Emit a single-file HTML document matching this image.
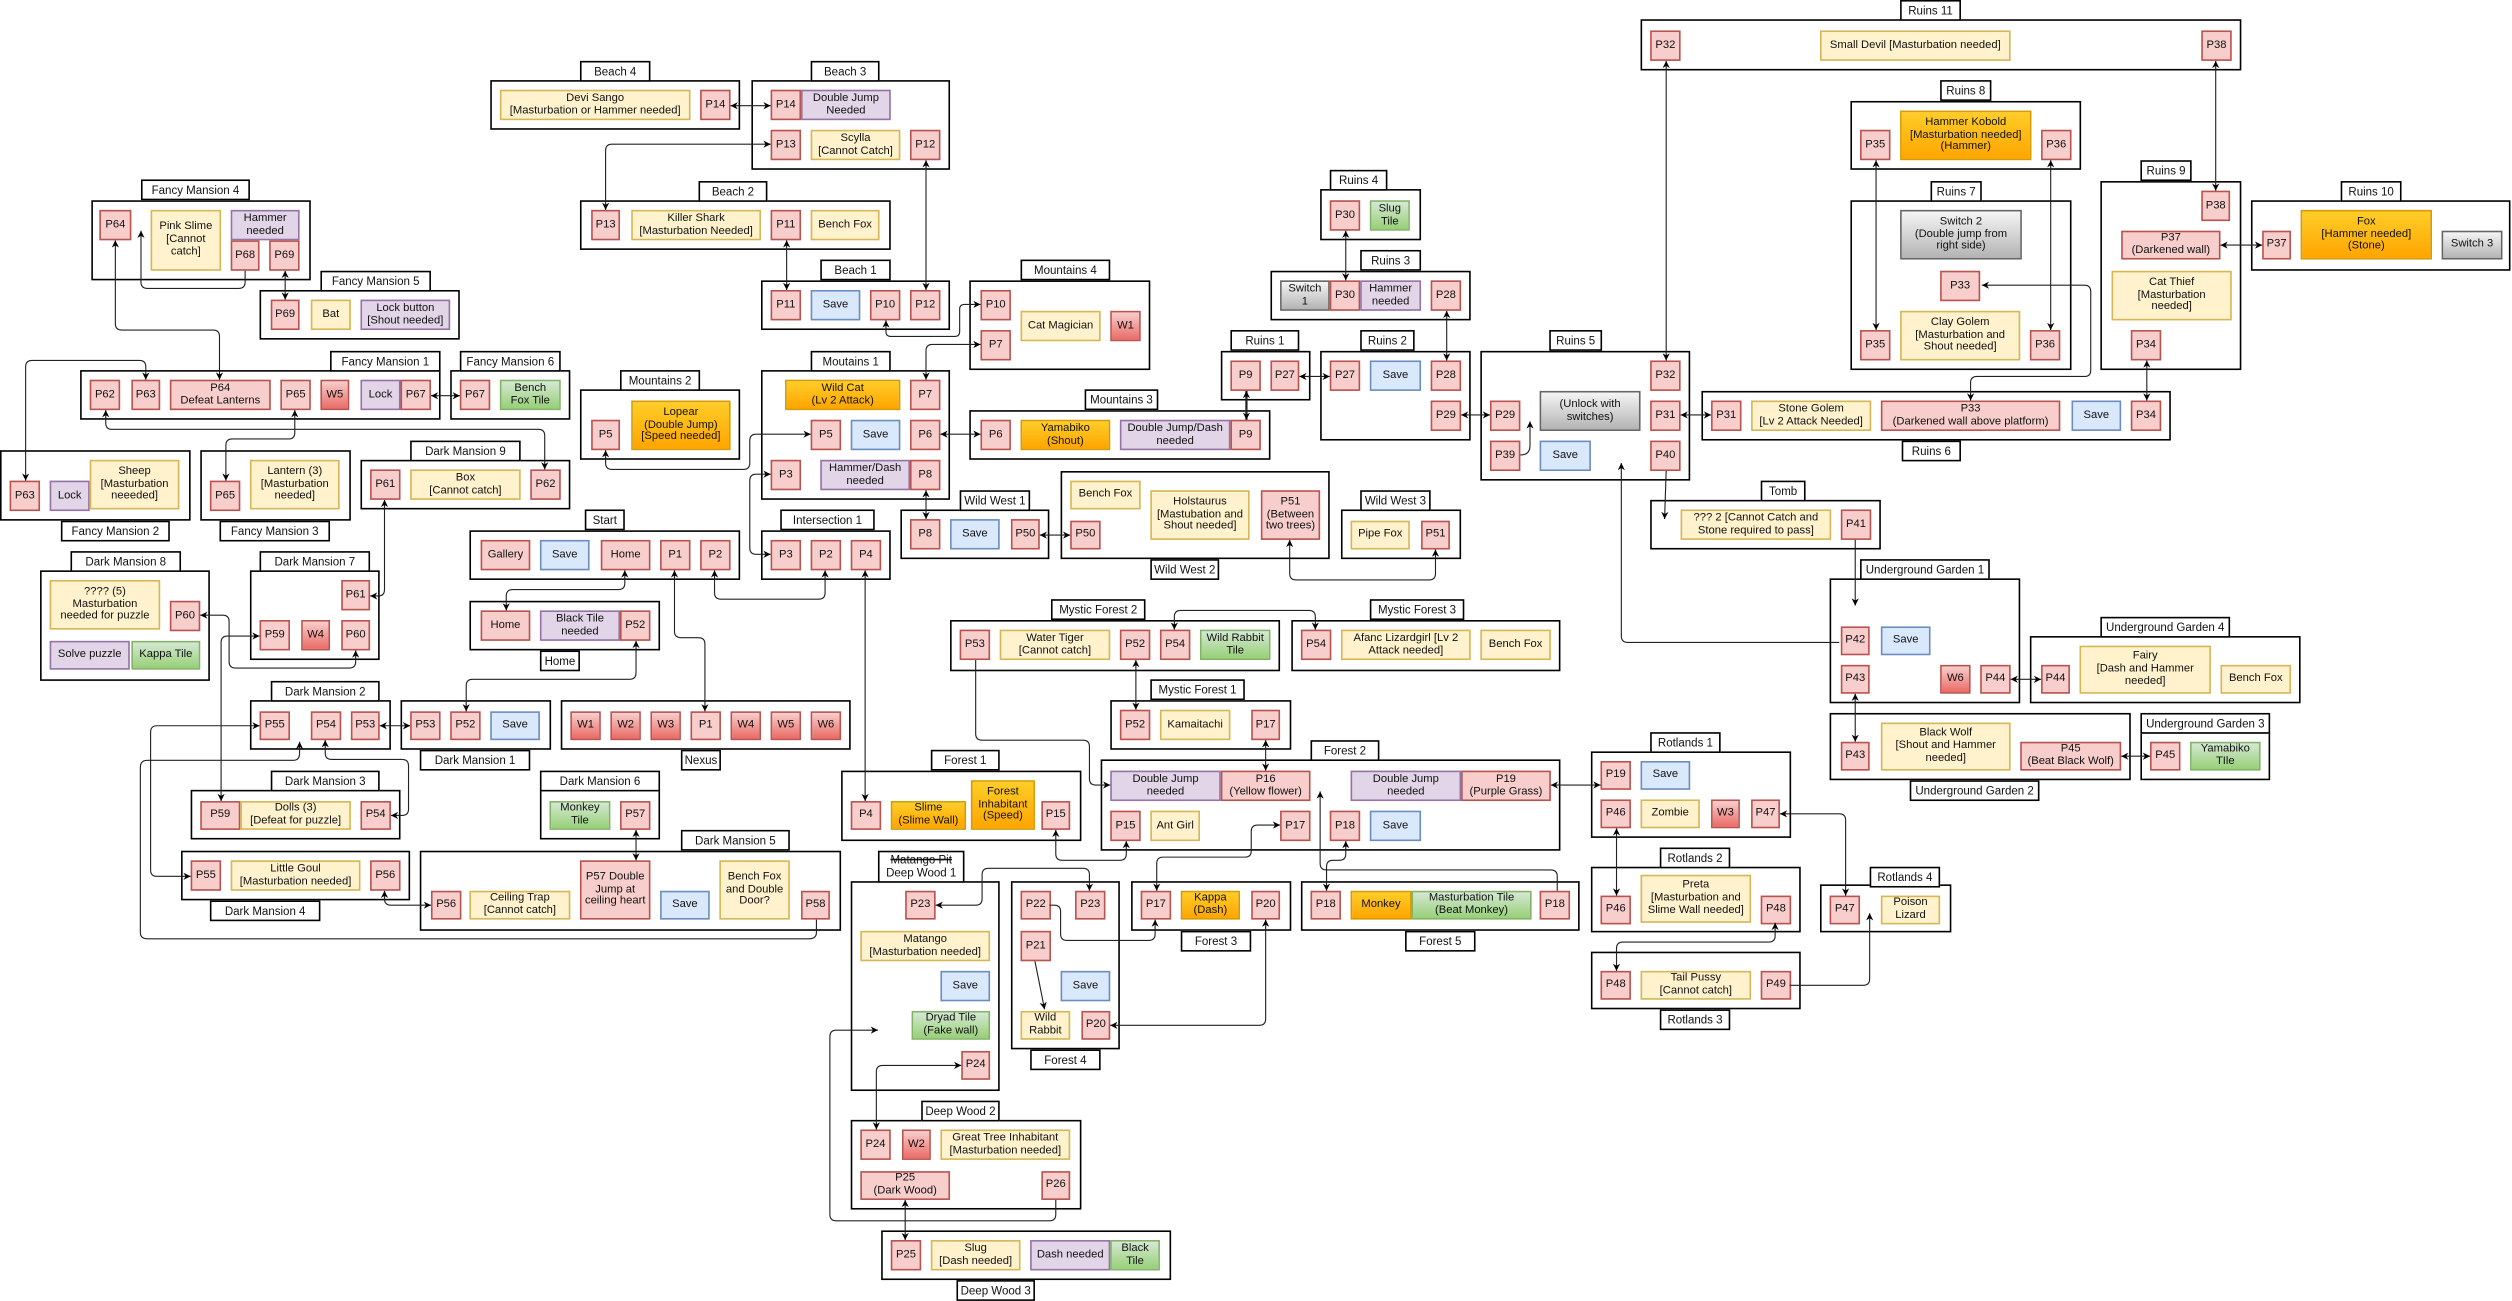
<!DOCTYPE html>
<html><head><meta charset="utf-8">
<style>
html,body{margin:0;padding:0;background:#fff;width:2512px;height:1301px;overflow:hidden}
#c{position:absolute;left:0;top:0;width:1568px;height:812px;transform:scale(1.6021);transform-origin:0 0;font-family:"Liberation Sans Narrow","Liberation Sans",sans-serif;color:#111}
#c div{position:absolute;box-sizing:border-box}
.bx{border:1.1px solid #000;background:#fff}
.tb{border:0.8px solid #000;background:#fff;font-size:7.2px;display:flex;align-items:center;justify-content:center;white-space:nowrap;height:12.5px}
.n{border:0.8px solid;display:flex;align-items:center;justify-content:center;text-align:center;font-size:7px;line-height:1.13;white-space:nowrap;overflow:visible}
.r{background:#f8cecc;border-color:#b85450}
.y{background:#fff2cc;border-color:#d6b656}
.p{background:#e1d5e7;border-color:#9673a6}
.b{background:#dae8fc;border-color:#6c8ebf}
.g{background:linear-gradient(#d5e8d4,#97d077);border-color:#82b366}
.o{background:linear-gradient(#ffcd28,#ffa500);border-color:#d79b00}
.w{background:linear-gradient(#f8cecc,#ea6b66);border-color:#b85450}
.s{background:linear-gradient(#f5f5f5,#b3b3b3);border-color:#666}
svg{position:absolute;left:0;top:0}
</style></head><body>
<div id="c">
<!-- Beach 4 -->
<div class="bx" style="left:306px;top:50px;width:156px;height:31px"></div><div class="tb" style="left:362px;top:38px;width:44px">Beach 4</div>
<div class="n y" style="left:312px;top:56px;width:119px;height:19px">Devi Sango<br>[Masturbation or Hammer needed]</div>
<div class="n r" style="left:437px;top:56px;width:19px;height:19px">P14</div>
<!-- Beach 3 -->
<div class="bx" style="left:469px;top:50px;width:124px;height:56px"></div><div class="tb" style="left:506px;top:38px;width:43px">Beach 3</div>
<div class="n r" style="left:481px;top:56px;width:19px;height:19px">P14</div>
<div class="n p" style="left:500px;top:56px;width:56px;height:19px">Double Jump<br>Needed</div>
<div class="n r" style="left:481px;top:81px;width:19px;height:19px">P13</div>
<div class="n y" style="left:506px;top:81px;width:56px;height:19px">Scylla<br>[Cannot Catch]</div>
<div class="n r" style="left:568px;top:81px;width:19px;height:19px">P12</div>
<!-- Beach 2 -->
<div class="bx" style="left:362px;top:125px;width:194px;height:31px"></div><div class="tb" style="left:436px;top:113px;width:43px">Beach 2</div>
<div class="n r" style="left:369px;top:131px;width:18px;height:19px">P13</div>
<div class="n y" style="left:394px;top:131px;width:81px;height:19px">Killer Shark<br>[Masturbation Needed]</div>
<div class="n r" style="left:481px;top:131px;width:19px;height:19px">P11</div>
<div class="n y" style="left:506px;top:131px;width:43px;height:19px">Bench Fox</div>
<!-- Beach 1 -->
<div class="bx" style="left:475px;top:175px;width:118px;height:31px"></div><div class="tb" style="left:512px;top:162px;width:44px">Beach 1</div>
<div class="n r" style="left:481px;top:181px;width:19px;height:19px">P11</div>
<div class="n b" style="left:506px;top:181px;width:31px;height:19px">Save</div>
<div class="n r" style="left:543px;top:181px;width:19px;height:19px">P10</div>
<div class="n r" style="left:568px;top:181px;width:19px;height:19px">P12</div>
<!-- Mountains 4 -->
<div class="bx" style="left:605px;top:175px;width:113px;height:56px"></div><div class="tb" style="left:637px;top:162px;width:56px">Mountains 4</div>
<div class="n r" style="left:612px;top:181px;width:19px;height:19px">P10</div>
<div class="n r" style="left:612px;top:206px;width:19px;height:19px">P7</div>
<div class="n y" style="left:637px;top:194px;width:50px;height:19px">Cat Magician</div>
<div class="n w" style="left:693px;top:194px;width:19px;height:19px">W1</div>
<!-- Moutains 1 -->
<div class="bx" style="left:475px;top:231px;width:118px;height:81px"></div><div class="tb" style="left:506px;top:219px;width:50px">Moutains 1</div>
<div class="n o" style="left:490px;top:237px;width:72px;height:19px">Wild Cat<br>(Lv 2 Attack)</div>
<div class="n r" style="left:568px;top:237px;width:19px;height:19px">P7</div>
<div class="n r" style="left:506px;top:262px;width:19px;height:19px">P5</div>
<div class="n b" style="left:531px;top:262px;width:31px;height:19px">Save</div>
<div class="n r" style="left:568px;top:262px;width:19px;height:19px">P6</div>
<div class="n r" style="left:481px;top:287px;width:19px;height:19px">P3</div>
<div class="n p" style="left:512px;top:287px;width:56px;height:19px">Hammer/Dash<br>needed</div>
<div class="n r" style="left:568px;top:287px;width:19px;height:19px">P8</div>
<!-- Mountains 2 -->
<div class="bx" style="left:362px;top:243px;width:100px;height:44px"></div><div class="tb" style="left:387px;top:231px;width:50px">Mountains 2</div>
<div class="n r" style="left:369px;top:262px;width:18px;height:19px">P5</div>
<div class="n o" style="left:394px;top:250px;width:62px;height:31px">Lopear<br>(Double Jump)<br>[Speed needed]</div>
<!-- Mountains 3 -->
<div class="bx" style="left:605px;top:256px;width:188px;height:31px"></div><div class="tb" style="left:677px;top:243px;width:46px">Mountains 3</div>
<div class="n r" style="left:612px;top:262px;width:19px;height:19px">P6</div>
<div class="n o" style="left:637px;top:262px;width:56px;height:19px">Yamabiko<br>(Shout)</div>
<div class="n p" style="left:699px;top:262px;width:69px;height:19px">Double Jump/Dash<br>needed</div>
<div class="n r" style="left:768px;top:262px;width:19px;height:19px">P9</div>
<!-- Wild West 1 -->
<div class="bx" style="left:562px;top:318px;width:93px;height:31px"></div><div class="tb" style="left:599px;top:306px;width:44px">Wild West 1</div>
<div class="n r" style="left:568px;top:324px;width:19px;height:19px">P8</div>
<div class="n b" style="left:593px;top:324px;width:31px;height:19px">Save</div>
<div class="n r" style="left:631px;top:324px;width:18px;height:19px">P50</div>
<!-- Wild West 2 -->
<div class="bx" style="left:662px;top:294px;width:168px;height:55px"></div><div class="tb" style="left:718px;top:349px;width:43px">Wild West 2</div>
<div class="n y" style="left:668px;top:300px;width:44px;height:18px">Bench Fox</div>
<div class="n y" style="left:718px;top:306px;width:62px;height:31px">Holstaurus<br>[Mastubation and<br>Shout needed]</div>
<div class="n r" style="left:787px;top:306px;width:37px;height:31px">P51<br>(Between<br>two trees)</div>
<div class="n r" style="left:668px;top:325px;width:19px;height:18px">P50</div>
<!-- Wild West 3 -->
<div class="bx" style="left:837px;top:318px;width:75px;height:31px"></div><div class="tb" style="left:849px;top:306px;width:44px">Wild West 3</div>
<div class="n y" style="left:843px;top:325px;width:37px;height:18px">Pipe Fox</div>
<div class="n r" style="left:887px;top:325px;width:18px;height:18px">P51</div>
<!-- Ruins 4 -->
<div class="bx" style="left:824px;top:118px;width:63px;height:32px"></div><div class="tb" style="left:830px;top:106px;width:36px">Ruins 4</div>
<div class="n r" style="left:830px;top:125px;width:19px;height:19px">P30</div>
<div class="n g" style="left:855px;top:125px;width:25px;height:19px">Slug<br>Tile</div>
<!-- Ruins 3 -->
<div class="bx" style="left:793px;top:169px;width:125px;height:31px"></div><div class="tb" style="left:849px;top:156px;width:38px">Ruins 3</div>
<div class="n s" style="left:799px;top:175px;width:31px;height:19px">Switch<br>1</div>
<div class="n r" style="left:830px;top:175px;width:19px;height:19px">P30</div>
<div class="n p" style="left:849px;top:175px;width:38px;height:19px">Hammer<br>needed</div>
<div class="n r" style="left:893px;top:175px;width:19px;height:19px">P28</div>
<!-- Ruins 1 -->
<div class="bx" style="left:762px;top:219px;width:56px;height:31px"></div><div class="tb" style="left:768px;top:206px;width:43px">Ruins 1</div>
<div class="n r" style="left:768px;top:225px;width:19px;height:19px">P9</div>
<div class="n r" style="left:793px;top:225px;width:18px;height:19px">P27</div>
<!-- Ruins 2 -->
<div class="bx" style="left:824px;top:219px;width:94px;height:56px"></div><div class="tb" style="left:849px;top:206px;width:34px">Ruins 2</div>
<div class="n r" style="left:830px;top:225px;width:19px;height:19px">P27</div>
<div class="n b" style="left:855px;top:225px;width:32px;height:19px">Save</div>
<div class="n r" style="left:893px;top:225px;width:19px;height:19px">P28</div>
<div class="n r" style="left:893px;top:250px;width:19px;height:19px">P29</div>
<!-- Ruins 5 -->
<div class="bx" style="left:924px;top:219px;width:131px;height:81px"></div><div class="tb" style="left:967px;top:206px;width:33px">Ruins 5</div>
<div class="n r" style="left:930px;top:250px;width:19px;height:19px">P29</div>
<div class="n s" style="left:961px;top:244px;width:63px;height:25px">(Unlock with<br>switches)</div>
<div class="n r" style="left:1030px;top:225px;width:19px;height:19px">P32</div>
<div class="n r" style="left:1030px;top:250px;width:19px;height:19px">P31</div>
<div class="n r" style="left:930px;top:275px;width:19px;height:19px">P39</div>
<div class="n b" style="left:961px;top:275px;width:32px;height:19px">Save</div>
<div class="n r" style="left:1030px;top:275px;width:19px;height:19px">P40</div>
<!-- Tomb -->
<div class="bx" style="left:1030px;top:312px;width:144px;height:31px"></div><div class="tb" style="left:1099px;top:300px;width:28px">Tomb</div>
<div class="n y" style="left:1049px;top:318px;width:94px;height:19px">??? 2 [Cannot Catch and<br>Stone required to pass]</div>
<div class="n r" style="left:1149px;top:318px;width:19px;height:19px">P41</div>
<!-- Ruins 11 -->
<div class="bx" style="left:1024px;top:12px;width:375px;height:32px"></div><div class="tb" style="left:1186px;top:0px;width:38px">Ruins 11</div>
<div class="n r" style="left:1030px;top:19px;width:19px;height:19px">P32</div>
<div class="n y" style="left:1136px;top:19px;width:119px;height:19px">Small Devil [Masturbation needed]</div>
<div class="n r" style="left:1374px;top:19px;width:19px;height:19px">P38</div>
<!-- Ruins 8 -->
<div class="bx" style="left:1155px;top:63px;width:144px;height:43px"></div><div class="tb" style="left:1211px;top:50px;width:32px">Ruins 8</div>
<div class="n r" style="left:1161px;top:81px;width:19px;height:19px">P35</div>
<div class="n o" style="left:1186px;top:69px;width:82px;height:31px">Hammer Kobold<br>[Masturbation needed]<br>(Hammer)</div>
<div class="n r" style="left:1274px;top:81px;width:19px;height:19px">P36</div>
<!-- Ruins 7 -->
<div class="bx" style="left:1155px;top:125px;width:138px;height:106px"></div><div class="tb" style="left:1205px;top:113px;width:32px">Ruins 7</div>
<div class="n s" style="left:1186px;top:131px;width:76px;height:31px">Switch 2<br>(Double jump from<br>right side)</div>
<div class="n r" style="left:1211px;top:169px;width:25px;height:19px">P33</div>
<div class="n r" style="left:1161px;top:206px;width:19px;height:19px">P35</div>
<div class="n y" style="left:1186px;top:194px;width:75px;height:31px">Clay Golem<br>[Masturbation and<br>Shout needed]</div>
<div class="n r" style="left:1267px;top:206px;width:19px;height:19px">P36</div>
<!-- Ruins 9 -->
<div class="bx" style="left:1311px;top:113px;width:88px;height:118px"></div><div class="tb" style="left:1336px;top:100px;width:32px">Ruins 9</div>
<div class="n r" style="left:1374px;top:119px;width:18px;height:19px">P38</div>
<div class="n r" style="left:1324px;top:144px;width:62px;height:18px">P37<br>(Darkened wall)</div>
<div class="n y" style="left:1318px;top:169px;width:75px;height:31px">Cat Thief<br>[Masturbation<br>needed]</div>
<div class="n r" style="left:1330px;top:206px;width:19px;height:19px">P34</div>
<!-- Ruins 10 -->
<div class="bx" style="left:1405px;top:125px;width:162px;height:44px"></div><div class="tb" style="left:1461px;top:113px;width:38px">Ruins 10</div>
<div class="n r" style="left:1412px;top:144px;width:18px;height:18px">P37</div>
<div class="n o" style="left:1436px;top:131px;width:82px;height:31px">Fox<br>[Hammer needed]<br>(Stone)</div>
<div class="n s" style="left:1524px;top:144px;width:38px;height:18px">Switch 3</div>
<!-- Ruins 6 -->
<div class="bx" style="left:1062px;top:244px;width:293px;height:31px"></div><div class="tb" style="left:1187px;top:275px;width:37px">Ruins 6</div>
<div class="n r" style="left:1068px;top:250px;width:19px;height:19px">P31</div>
<div class="n y" style="left:1093px;top:250px;width:75px;height:19px">Stone Golem<br>[Lv 2 Attack Needed]</div>
<div class="n r" style="left:1174px;top:250px;width:112px;height:19px">P33<br>(Darkened wall above platform)</div>
<div class="n b" style="left:1293px;top:250px;width:31px;height:19px">Save</div>
<div class="n r" style="left:1330px;top:250px;width:19px;height:19px">P34</div>
<!-- UG1 -->
<div class="bx" style="left:1142px;top:361px;width:119px;height:78px"></div><div class="tb" style="left:1161px;top:349px;width:81px">Underground Garden 1</div>
<div class="n r" style="left:1149px;top:391px;width:18px;height:18px">P42</div>
<div class="n b" style="left:1174px;top:391px;width:31px;height:18px">Save</div>
<div class="n r" style="left:1149px;top:415px;width:18px;height:18px">P43</div>
<div class="n w" style="left:1211px;top:415px;width:19px;height:18px">W6</div>
<div class="n r" style="left:1236px;top:415px;width:19px;height:18px">P44</div>
<!-- UG4 -->
<div class="bx" style="left:1267px;top:397px;width:169px;height:42px"></div><div class="tb" style="left:1311px;top:385px;width:81px">Underground Garden 4</div>
<div class="n r" style="left:1274px;top:415px;width:18px;height:18px">P44</div>
<div class="n y" style="left:1298px;top:403px;width:82px;height:30px">Fairy<br>[Dash and Hammer<br>needed]</div>
<div class="n y" style="left:1386px;top:415px;width:44px;height:18px">Bench Fox</div>
<!-- UG2 -->
<div class="bx" style="left:1142px;top:445px;width:188px;height:42px"></div><div class="tb" style="left:1192px;top:487px;width:81px">Underground Garden 2</div>
<div class="n r" style="left:1149px;top:463px;width:18px;height:18px">P43</div>
<div class="n y" style="left:1174px;top:451px;width:81px;height:30px">Black Wolf<br>[Shout and Hammer<br>needed]</div>
<div class="n r" style="left:1261px;top:463px;width:63px;height:18px">P45<br>(Beat Black Wolf)</div>
<!-- UG3 -->
<div class="bx" style="left:1336px;top:457px;width:81px;height:30px"></div><div class="tb" style="left:1336px;top:445px;width:81px">Underground Garden 3</div>
<div class="n r" style="left:1342px;top:463px;width:19px;height:18px">P45</div>
<div class="n g" style="left:1367px;top:463px;width:44px;height:18px">Yamabiko<br>TIle</div>
<!-- Rotlands 1 -->
<div class="bx" style="left:993px;top:469px;width:125px;height:54px"></div><div class="tb" style="left:1030px;top:457px;width:44px">Rotlands 1</div>
<div class="n r" style="left:999px;top:475px;width:19px;height:18px">P19</div>
<div class="n b" style="left:1024px;top:475px;width:31px;height:18px">Save</div>
<div class="n r" style="left:999px;top:499px;width:19px;height:18px">P46</div>
<div class="n y" style="left:1024px;top:499px;width:37px;height:18px">Zombie</div>
<div class="n w" style="left:1068px;top:499px;width:18px;height:18px">W3</div>
<div class="n r" style="left:1093px;top:499px;width:18px;height:18px">P47</div>
<!-- Rotlands 2 -->
<div class="bx" style="left:993px;top:541px;width:131px;height:41px"></div><div class="tb" style="left:1036px;top:529px;width:44px">Rotlands 2</div>
<div class="n r" style="left:999px;top:559px;width:19px;height:18px">P46</div>
<div class="n y" style="left:1024px;top:546px;width:69px;height:30px">Preta<br>[Masturbation and<br>Slime Wall needed]</div>
<div class="n r" style="left:1099px;top:559px;width:19px;height:18px">P48</div>
<!-- Rotlands 3 -->
<div class="bx" style="left:993px;top:594px;width:131px;height:36px"></div><div class="tb" style="left:1036px;top:630px;width:44px">Rotlands 3</div>
<div class="n r" style="left:999px;top:606px;width:19px;height:18px">P48</div>
<div class="n y" style="left:1024px;top:606px;width:69px;height:18px">Tail Pussy<br>[Cannot catch]</div>
<div class="n r" style="left:1099px;top:606px;width:19px;height:18px">P49</div>
<!-- Rotlands 4 -->
<div class="bx" style="left:1136px;top:552px;width:82px;height:30px"></div><div class="tb" style="left:1167px;top:541px;width:44px">Rotlands 4</div>
<div class="n r" style="left:1142px;top:559px;width:19px;height:18px">P47</div>
<div class="n y" style="left:1174px;top:559px;width:37px;height:18px">Poison<br>Lizard</div>
<!-- Mystic Forest 2 -->
<div class="bx" style="left:593px;top:387px;width:206px;height:32px"></div><div class="tb" style="left:656px;top:374px;width:59px">Mystic Forest 2</div>
<div class="n r" style="left:599px;top:393px;width:19px;height:19px">P53</div>
<div class="n y" style="left:624px;top:393px;width:69px;height:19px">Water Tiger<br>[Cannot catch]</div>
<div class="n r" style="left:699px;top:393px;width:19px;height:19px">P52</div>
<div class="n r" style="left:724px;top:393px;width:19px;height:19px">P54</div>
<div class="n g" style="left:749px;top:393px;width:44px;height:19px">Wild Rabbit<br>Tile</div>
<!-- Mystic Forest 3 -->
<div class="bx" style="left:806px;top:387px;width:168px;height:32px"></div><div class="tb" style="left:855px;top:374px;width:59px">Mystic Forest 3</div>
<div class="n r" style="left:812px;top:393px;width:19px;height:19px">P54</div>
<div class="n y" style="left:837px;top:393px;width:81px;height:19px">Afanc Lizardgirl [Lv 2<br>Attack needed]</div>
<div class="n y" style="left:924px;top:393px;width:44px;height:19px">Bench Fox</div>
<!-- Mystic Forest 1 -->
<div class="bx" style="left:693px;top:437px;width:113px;height:31px"></div><div class="tb" style="left:718px;top:424px;width:59px">Mystic Forest 1</div>
<div class="n r" style="left:699px;top:443px;width:19px;height:19px">P52</div>
<div class="n y" style="left:724px;top:443px;width:44px;height:19px">Kamaitachi</div>
<div class="n r" style="left:781px;top:443px;width:18px;height:19px">P17</div>
<!-- Forest 2 -->
<div class="bx" style="left:687px;top:474px;width:287px;height:57px"></div><div class="tb" style="left:818px;top:462px;width:43px">Forest 2</div>
<div class="n p" style="left:693px;top:481px;width:69px;height:19px">Double Jump<br>needed</div>
<div class="n r" style="left:762px;top:481px;width:56px;height:19px">P16<br>(Yellow flower)</div>
<div class="n p" style="left:843px;top:481px;width:69px;height:19px">Double Jump<br>needed</div>
<div class="n r" style="left:912px;top:481px;width:56px;height:19px">P19<br>(Purple Grass)</div>
<div class="n r" style="left:693px;top:506px;width:19px;height:19px">P15</div>
<div class="n y" style="left:718px;top:506px;width:31px;height:19px">Ant Girl</div>
<div class="n r" style="left:799px;top:506px;width:19px;height:19px">P17</div>
<div class="n r" style="left:830px;top:506px;width:19px;height:19px">P18</div>
<div class="n b" style="left:855px;top:506px;width:32px;height:19px">Save</div>
<!-- Forest 1 -->
<div class="bx" style="left:525px;top:481px;width:150px;height:44px"></div><div class="tb" style="left:581px;top:468px;width:43px">Forest 1</div>
<div class="n r" style="left:531px;top:500px;width:19px;height:18px">P4</div>
<div class="n o" style="left:556px;top:500px;width:47px;height:18px">Slime<br>(Slime Wall)</div>
<div class="n o" style="left:606px;top:487px;width:40px;height:31px">Forest<br>Inhabitant<br>(Speed)</div>
<div class="n r" style="left:650px;top:500px;width:18px;height:18px">P15</div>
<!-- Deep Wood 1 -->
<div class="bx" style="left:531px;top:550px;width:93px;height:131px"></div>
<div class="tb" style="left:548px;top:531px;width:54px;height:19.5px;flex-direction:column;line-height:1.1"><span style="text-decoration:line-through">Matango Pit</span><span>Deep Wood 1</span></div>
<div class="n r" style="left:565px;top:556px;width:19px;height:18px">P23</div>
<div class="n y" style="left:537px;top:581px;width:81px;height:19px">Matango<br>[Masturbation needed]</div>
<div class="n b" style="left:587px;top:606px;width:31px;height:19px">Save</div>
<div class="n g" style="left:569px;top:631px;width:49px;height:18px">Dryad Tile<br>(Fake wall)</div>
<div class="n r" style="left:600px;top:656px;width:18px;height:18px">P24</div>
<!-- Forest 4 -->
<div class="bx" style="left:631px;top:550px;width:68px;height:105px"></div><div class="tb" style="left:643px;top:655px;width:44px">Forest 4</div>
<div class="n r" style="left:637px;top:556px;width:19px;height:18px">P22</div>
<div class="n r" style="left:671px;top:556px;width:19px;height:18px">P23</div>
<div class="n r" style="left:637px;top:581px;width:19px;height:19px">P21</div>
<div class="n b" style="left:662px;top:606px;width:31px;height:19px">Save</div>
<div class="n y" style="left:637px;top:631px;width:31px;height:18px">Wild<br>Rabbit</div>
<div class="n r" style="left:675px;top:631px;width:18px;height:18px">P20</div>
<!-- Forest 3 -->
<div class="bx" style="left:706px;top:550px;width:100px;height:31px"></div><div class="tb" style="left:737px;top:581px;width:44px">Forest 3</div>
<div class="n r" style="left:712px;top:556px;width:19px;height:18px">P17</div>
<div class="n o" style="left:737px;top:556px;width:37px;height:18px">Kappa<br>(Dash)</div>
<div class="n r" style="left:781px;top:556px;width:18px;height:18px">P20</div>
<!-- Forest 5 -->
<div class="bx" style="left:812px;top:550px;width:174px;height:31px"></div><div class="tb" style="left:877px;top:581px;width:44px">Forest 5</div>
<div class="n r" style="left:818px;top:556px;width:19px;height:18px">P18</div>
<div class="n o" style="left:843px;top:556px;width:38px;height:18px">Monkey</div>
<div class="n g" style="left:881px;top:556px;width:75px;height:18px">Masturbation Tile<br>(Beat Monkey)</div>
<div class="n r" style="left:961px;top:556px;width:19px;height:18px">P18</div>
<!-- Deep Wood 2 -->
<div class="bx" style="left:531px;top:699px;width:144px;height:56px"></div><div class="tb" style="left:575px;top:687px;width:49px">Deep Wood 2</div>
<div class="n r" style="left:537px;top:705px;width:19px;height:19px">P24</div>
<div class="n w" style="left:563px;top:705px;width:18px;height:19px">W2</div>
<div class="n y" style="left:587px;top:705px;width:81px;height:19px">Great Tree Inhabitant<br>[Masturbation needed]</div>
<div class="n r" style="left:537px;top:731px;width:56px;height:18px">P25<br>(Dark Wood)</div>
<div class="n r" style="left:650px;top:731px;width:18px;height:18px">P26</div>
<!-- Deep Wood 3 -->
<div class="bx" style="left:550px;top:768px;width:181px;height:31px"></div><div class="tb" style="left:597px;top:799px;width:49px">Deep Wood 3</div>
<div class="n r" style="left:556px;top:774px;width:19px;height:19px">P25</div>
<div class="n y" style="left:581px;top:774px;width:56px;height:19px">Slug<br>[Dash needed]</div>
<div class="n p" style="left:643px;top:774px;width:50px;height:19px">Dash needed</div>
<div class="n g" style="left:693px;top:774px;width:31px;height:19px">Black<br>Tile</div>
<!-- Dark Mansion 2 -->
<div class="bx" style="left:156px;top:437px;width:88px;height:31px"></div><div class="tb" style="left:169px;top:425px;width:68px">Dark Mansion 2</div>
<div class="n r" style="left:162px;top:444px;width:19px;height:18px">P55</div>
<div class="n r" style="left:194px;top:444px;width:19px;height:18px">P54</div>
<div class="n r" style="left:219px;top:444px;width:18px;height:18px">P53</div>
<!-- Dark Mansion 1 -->
<div class="bx" style="left:250px;top:437px;width:94px;height:31px"></div><div class="tb" style="left:262px;top:468px;width:69px">Dark Mansion 1</div>
<div class="n r" style="left:256px;top:444px;width:19px;height:18px">P53</div>
<div class="n r" style="left:281px;top:444px;width:19px;height:18px">P52</div>
<div class="n b" style="left:306px;top:444px;width:31px;height:18px">Save</div>
<!-- Nexus -->
<div class="bx" style="left:350px;top:437px;width:181px;height:31px"></div><div class="tb" style="left:425px;top:468px;width:25px">Nexus</div>
<div class="n w" style="left:356px;top:444px;width:19px;height:18px">W1</div>
<div class="n w" style="left:381px;top:444px;width:19px;height:18px">W2</div>
<div class="n w" style="left:406px;top:444px;width:19px;height:18px">W3</div>
<div class="n r" style="left:431px;top:444px;width:19px;height:18px">P1</div>
<div class="n w" style="left:456px;top:444px;width:19px;height:18px">W4</div>
<div class="n w" style="left:481px;top:444px;width:19px;height:18px">W5</div>
<div class="n w" style="left:506px;top:444px;width:19px;height:18px">W6</div>
<!-- Dark Mansion 3 -->
<div class="bx" style="left:119px;top:493px;width:131px;height:31px"></div><div class="tb" style="left:169px;top:481px;width:68px">Dark Mansion 3</div>
<div class="n r" style="left:125px;top:500px;width:25px;height:18px">P59</div>
<div class="n y" style="left:150px;top:500px;width:69px;height:18px">Dolls (3)<br>[Defeat for puzzle]</div>
<div class="n r" style="left:225px;top:500px;width:19px;height:18px">P54</div>
<!-- Dark Mansion 4 -->
<div class="bx" style="left:113px;top:531px;width:143px;height:31px"></div><div class="tb" style="left:131px;top:562px;width:69px">Dark Mansion 4</div>
<div class="n r" style="left:119px;top:537px;width:19px;height:19px">P55</div>
<div class="n y" style="left:144px;top:537px;width:81px;height:19px">Little Goul<br>[Masturbation needed]</div>
<div class="n r" style="left:231px;top:537px;width:19px;height:19px">P56</div>
<!-- Dark Mansion 6 -->
<div class="bx" style="left:337px;top:493px;width:75px;height:31px"></div><div class="tb" style="left:337px;top:481px;width:75px">Dark Mansion 6</div>
<div class="n g" style="left:343px;top:500px;width:38px;height:18px">Monkey<br>Tile</div>
<div class="n r" style="left:387px;top:500px;width:19px;height:18px">P57</div>
<!-- Dark Mansion 5 -->
<div class="bx" style="left:262px;top:531px;width:263px;height:50px"></div><div class="tb" style="left:425px;top:518px;width:68px">Dark Mansion 5</div>
<div class="n r" style="left:269px;top:556px;width:19px;height:18px">P56</div>
<div class="n y" style="left:293px;top:556px;width:63px;height:18px">Ceiling Trap<br>[Cannot catch]</div>
<div class="n r" style="left:362px;top:537px;width:44px;height:37px">P57 Double<br>Jump at<br>ceiling heart</div>
<div class="n b" style="left:412px;top:556px;width:31px;height:18px">Save</div>
<div class="n y" style="left:449px;top:537px;width:44px;height:37px">Bench Fox<br>and Double<br>Door?</div>
<div class="n r" style="left:500px;top:556px;width:18px;height:18px">P58</div>
<!-- Fancy Mansion 4 -->
<div class="bx" style="left:57px;top:125px;width:137px;height:50px"></div><div class="tb" style="left:88px;top:112px;width:68px">Fancy Mansion 4</div>
<div class="n r" style="left:62px;top:131px;width:20px;height:19px">P64</div>
<div class="n y" style="left:94px;top:131px;width:44px;height:38px">Pink Slime<br>[Cannot<br>catch]</div>
<div class="n p" style="left:144px;top:131px;width:43px;height:19px">Hammer<br>needed</div>
<div class="n r" style="left:144px;top:150px;width:18px;height:19px">P68</div>
<div class="n r" style="left:168px;top:150px;width:19px;height:19px">P69</div>
<!-- Fancy Mansion 5 -->
<div class="bx" style="left:162px;top:181px;width:125px;height:31px"></div><div class="tb" style="left:200px;top:169px;width:69px">Fancy Mansion 5</div>
<div class="n r" style="left:169px;top:187px;width:18px;height:19px">P69</div>
<div class="n y" style="left:194px;top:187px;width:25px;height:19px">Bat</div>
<div class="n p" style="left:225px;top:187px;width:56px;height:19px">Lock button<br>[Shout needed]</div>
<!-- Fancy Mansion 1 -->
<div class="bx" style="left:50px;top:231px;width:225px;height:31px"></div><div class="tb" style="left:206px;top:219px;width:69px">Fancy Mansion 1</div>
<div class="n r" style="left:56px;top:237px;width:19px;height:19px">P62</div>
<div class="n r" style="left:82px;top:237px;width:18px;height:19px">P63</div>
<div class="n r" style="left:106px;top:237px;width:63px;height:19px">P64<br>Defeat Lanterns</div>
<div class="n r" style="left:175px;top:237px;width:19px;height:19px">P65</div>
<div class="n w" style="left:200px;top:237px;width:18px;height:19px">W5</div>
<div class="n p" style="left:225px;top:237px;width:25px;height:19px">Lock</div>
<div class="n r" style="left:250px;top:237px;width:19px;height:19px">P67</div>
<!-- Fancy Mansion 6 -->
<div class="bx" style="left:281px;top:231px;width:75px;height:31px"></div><div class="tb" style="left:287px;top:219px;width:63px">Fancy Mansion 6</div>
<div class="n r" style="left:287px;top:237px;width:19px;height:19px">P67</div>
<div class="n g" style="left:312px;top:237px;width:38px;height:19px">Bench<br>Fox Tile</div>
<!-- Fancy Mansion 2 -->
<div class="bx" style="left:0px;top:281px;width:119px;height:44px"></div><div class="tb" style="left:38px;top:325px;width:68px">Fancy Mansion 2</div>
<div class="n r" style="left:6px;top:300px;width:19px;height:19px">P63</div>
<div class="n p" style="left:31px;top:300px;width:25px;height:19px">Lock</div>
<div class="n y" style="left:56px;top:287px;width:56px;height:31px">Sheep<br>[Masturbation<br>neeeded]</div>
<!-- Fancy Mansion 3 -->
<div class="bx" style="left:125px;top:281px;width:94px;height:44px"></div><div class="tb" style="left:137px;top:325px;width:69px">Fancy Mansion 3</div>
<div class="n r" style="left:131px;top:300px;width:19px;height:19px">P65</div>
<div class="n y" style="left:156px;top:287px;width:56px;height:31px">Lantern (3)<br>[Masturbation<br>needed]</div>
<!-- Dark Mansion 9 -->
<div class="bx" style="left:225px;top:287px;width:131px;height:31px"></div><div class="tb" style="left:256px;top:275px;width:69px">Dark Mansion 9</div>
<div class="n r" style="left:231px;top:293px;width:19px;height:19px">P61</div>
<div class="n y" style="left:256px;top:293px;width:69px;height:19px">Box<br>[Cannot catch]</div>
<div class="n r" style="left:331px;top:293px;width:19px;height:19px">P62</div>
<!-- Start -->
<div class="bx" style="left:293px;top:331px;width:169px;height:31px"></div><div class="tb" style="left:365px;top:318px;width:25px">Start</div>
<div class="n r" style="left:300px;top:337px;width:31px;height:19px">Gallery</div>
<div class="n b" style="left:337px;top:337px;width:31px;height:19px">Save</div>
<div class="n r" style="left:375px;top:337px;width:31px;height:19px">Home</div>
<div class="n r" style="left:412px;top:337px;width:19px;height:19px">P1</div>
<div class="n r" style="left:437px;top:337px;width:19px;height:19px">P2</div>
<!-- Intersection 1 -->
<div class="bx" style="left:475px;top:331px;width:81px;height:31px"></div><div class="tb" style="left:487px;top:318px;width:59px">Intersection 1</div>
<div class="n r" style="left:481px;top:337px;width:19px;height:19px">P3</div>
<div class="n r" style="left:506px;top:337px;width:19px;height:19px">P2</div>
<div class="n r" style="left:531px;top:337px;width:19px;height:19px">P4</div>
<!-- Home -->
<div class="bx" style="left:293px;top:375px;width:119px;height:31px"></div><div class="tb" style="left:337px;top:406px;width:25px">Home</div>
<div class="n r" style="left:300px;top:381px;width:31px;height:19px">Home</div>
<div class="n p" style="left:337px;top:381px;width:50px;height:19px">Black Tile<br>needed</div>
<div class="n r" style="left:387px;top:381px;width:19px;height:19px">P52</div>
<!-- Dark Mansion 8 -->
<div class="bx" style="left:25px;top:356px;width:106px;height:69px"></div><div class="tb" style="left:44px;top:344px;width:69px">Dark Mansion 8</div>
<div class="n y" style="left:31px;top:362px;width:69px;height:31px">???? (5)<br>Masturbation<br>needed for puzzle</div>
<div class="n r" style="left:106px;top:375px;width:19px;height:19px">P60</div>
<div class="n p" style="left:31px;top:400px;width:50px;height:18px">Solve puzzle</div>
<div class="n g" style="left:82px;top:400px;width:43px;height:18px">Kappa Tile</div>
<!-- Dark Mansion 7 -->
<div class="bx" style="left:156px;top:356px;width:81px;height:56px"></div><div class="tb" style="left:162px;top:344px;width:69px">Dark Mansion 7</div>
<div class="n r" style="left:213px;top:362px;width:18px;height:19px">P61</div>
<div class="n r" style="left:162px;top:387px;width:19px;height:19px">P59</div>
<div class="n w" style="left:188px;top:387px;width:18px;height:19px">W4</div>
<div class="n r" style="left:213px;top:387px;width:18px;height:19px">P60</div>

<svg width="1568" height="812" viewBox="0 0 1568 812">
<defs>
<marker id="a" viewBox="0 0 10 10" refX="10" refY="5" markerWidth="4.5" markerHeight="4.5" markerUnits="userSpaceOnUse" orient="auto-start-reverse"><path d="M0,0 L10,5 L0,10 L3,5 z" fill="#000"/></marker>
</defs>
<g fill="none" stroke="#222" stroke-width="0.7">
<g marker-start="url(#a)" marker-end="url(#a)">
<path d="M456,66 H481"/>
<path d="M378,131 V94 Q378,90 382,90 H481"/>
<path d="M578,100 V181"/>
<path d="M491,150 V181"/>
<path d="M553,200 V207 Q553,210 556,210 H596 Q599,210 599,207 V193 Q599,190 602,190 H612"/>
<path d="M612,215 H582 Q578,215 578,219 V237"/>
<path d="M178,169 V187"/>
<path d="M72,150 V202 Q72,206 76,206 H133 Q137,206 137,210 V237"/>
<path d="M91,237 V229 Q91,225 87,225 H20 Q16,225 16,229 V300"/>
<path d="M66,256 V264 Q66,268 70,268 H336 Q340,268 340,272 V293"/>
<path d="M184,256 V270 Q184,274 180,274 H145 Q141,274 141,278 V300"/>
<path d="M269,247 H287"/>
<path d="M378,281 V289 Q378,293 382,293 H464 Q468,293 468,289 V275 Q468,271 472,271 H506"/>
<path d="M481,296 H472 Q468,296 468,300 V342 Q468,346 472,346 H481"/>
<path d="M587,271 H612"/>
<path d="M578,306 V324"/>
<path d="M778,244 V262" stroke-width="1.4"/>
<path d="M811,235 H830"/>
<path d="M840,144 V175"/>
<path d="M903,194 V225"/>
<path d="M912,259 H930"/>
<path d="M1040,38 V225"/>
<path d="M1049,259 H1068"/>
<path d="M1171,100 V206"/>
<path d="M1280,100 V206"/>
<path d="M1237,178 H1301 Q1305,178 1305,182 V231 Q1305,235 1301,235 H1234 Q1230,235 1230,239 V250"/>
<path d="M1383,38 V119"/>
<path d="M1386,153 H1412"/>
<path d="M1340,225 V250"/>
<path d="M1158,433 V463"/>
<path d="M1255,424 H1274"/>
<path d="M1324,472 H1342"/>
<path d="M968,490 H999"/>
<path d="M1009,517 V559"/>
<path d="M1111,508 H1148 Q1152,508 1152,512 V559"/>
<path d="M1108,576 V584 Q1108,588 1104,588 H1013 Q1009,588 1009,592 V606"/>
<path d="M540,356 V500"/>
<path d="M421,356 V394 Q421,398 425,398 H436 Q440,398 440,402 V444"/>
<path d="M446,356 V370 Q446,374 450,374 H511 Q515,374 515,370 V356"/>
<path d="M390,356 V364 Q390,368 386,368 H320 Q316,368 316,372 V381"/>
<path d="M397,400 V420 Q397,424 393,424 H295 Q291,424 291,428 V444"/>
<path d="M240,312 V368 Q240,372 236,372 H231"/>
<path d="M125,384 H139 Q143,384 143,388 V413 Q143,417 147,417 H218 Q222,417 222,413 V406"/>
<path d="M162,397 H142 Q138,397 138,401 V500"/>
<path d="M237,453 H256"/>
<path d="M162,453 H98 Q94,453 94,457 V543 Q94,547 98,547 H119"/>
<path d="M203,462 V470 Q203,474 207,474 H251 Q255,474 255,478 V505 Q255,509 251,509 H244"/>
<path d="M240,556 V561 Q240,565 244,565 H269"/>
<path d="M397,518 V537"/>
<path d="M733,393 V385 Q733,381 737,381 H817 Q821,381 821,385 V393"/>
<path d="M709,412 V443"/>
<path d="M790,462 V481"/>
<path d="M659,518 V533 Q659,537 663,537 H699 Q703,537 703,533 V525"/>
<path d="M799,515 H785 Q781,515 781,519 V531 Q781,535 777,535 H726 Q722,535 722,539 V556"/>
<path d="M840,525 V533 Q840,537 836,537 H832 Q828,537 828,541 V556"/>
<path d="M790,574 V636 Q790,640 786,640 H693"/>
<path d="M680,556 V546 Q680,542 676,542 H617 Q613,542 613,546 V561 Q613,565 609,565 H584"/>
<path d="M600,665 H551 Q547,665 547,669 V705"/>
<path d="M565,749 V774"/>
<path d="M649,334 H668"/>
<path d="M805,337 V358 Q805,362 809,362 H892 Q896,362 896,358 V343"/>
</g>
<g marker-end="url(#a)">
<path d="M153,169 V176 Q153,180 149,180 H92 Q88,180 88,176 V144"/>
<path d="M949,284 Q955,284 955,278 V263"/>
<path d="M1040,294 L1039,324"/>
<path d="M1148,401 H1016 Q1012,401 1012,397 V289"/>
<path d="M1158,337 V378"/>
<path d="M1117,615 H1163 Q1167,615 1167,611 V570"/>
<path d="M509.6,574 V582 Q509.6,586 505,586 H92 Q87.6,586 87.6,582 V479 Q87.6,474.6 92,474.6 H183 Q187,474.6 187,470 V463"/>
<path d="M609,412 V458 Q609,462 613,462 H676 Q680,462 680,466 V486 Q680,490 684,490 H693"/>
<path d="M972,556 V547 Q972,543 968,543 H828 Q824,543 824,539 V494"/>
<path d="M655,565 H658 Q662,565 662,569 V583 Q662,587 666,587 H717 Q721,587 721,583 V574"/>
<path d="M646,600 L652,630"/>
<path d="M659,749 V758 Q659,762 655,762 H522 Q518,762 518,758 V647 Q518,643 522,643 H548"/>
</g>
</g>
</svg>
</div>
</body></html>
